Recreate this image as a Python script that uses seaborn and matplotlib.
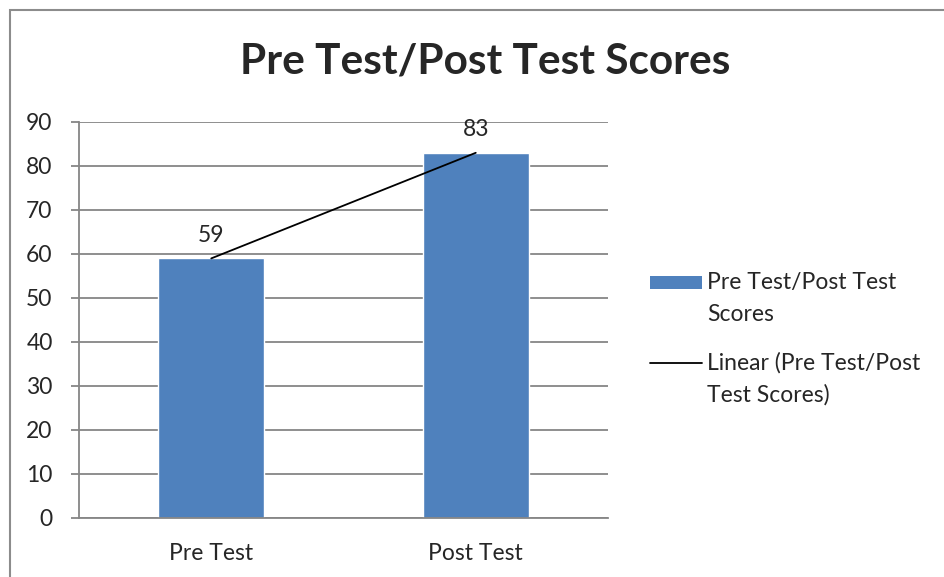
import pandas as pd
import numpy as np
import seaborn as sn
import matplotlib.pyplot as plt
from matplotlib.patches import Rectangle
from matplotlib.lines import Line2D

# chart values
categories = ['Pre Test', 'Post Test']
scores = [59, 83]
yticks = [0, 10, 20, 30, 40, 50, 60, 70, 80, 90]
title = 'Pre Test/Post Test Scores'
series_name = 'Pre Test/Post Test\nScores'
trend_name = 'Linear (Pre Test/Post\nTest Scores)'

bar_color = '#4F81BD'
grid_color = '#868686'
fs = 16.5

sn.set_style('white')
plt.rcParams['font.family'] = ['Lato', 'DejaVu Sans']

df = pd.DataFrame({'test': categories, 'score': scores})

W, H = 944, 577
fig = plt.figure(figsize=(W / 100, H / 100), dpi=100)
# chart frame border
fig.patches.append(Rectangle((10 / W, -0.05), 1.0, 1 - 10 / H + 0.05, transform=fig.transFigure,
                             fill=False, edgecolor='#8c8c8c', linewidth=1.5))
ax = fig.add_axes([79 / W, 1 - 518 / H, (608 - 79) / W, (518 - 122) / H])

sn.barplot(data=df, x='test', y='score', color=bar_color, width=0.4, ax=ax, zorder=2,
           saturation=1)
# linear trendline across the bars
sn.regplot(x=np.arange(len(scores)), y=scores, ax=ax, scatter=False, ci=None,
           color='black', line_kws={'linewidth': 1.3, 'zorder': 3})

ax.bar_label(ax.containers[0], fmt='%d', padding=9, fontsize=fs)

ax.set_ylim(0, 90)
ax.set_xlim(-0.5, 1.5)
ax.set_yticks(yticks)
ax.yaxis.grid(True, color=grid_color, linewidth=1.3, zorder=0)
ax.set_axisbelow(True)
ax.set_xlabel('')
ax.set_ylabel('')
for s in ['top', 'right']:
    ax.spines[s].set_visible(False)
for s in ['left', 'bottom']:
    ax.spines[s].set_color(grid_color)
    ax.spines[s].set_linewidth(1.3)

ax.tick_params(axis='y', direction='out', length=6, width=1.3, color=grid_color,
               labelsize=fs, pad=13, left=True)
ax.set_xticks([-0.5, 0.5, 1.5], minor=True)
ax.tick_params(axis='x', which='minor', direction='out', length=6, width=1.3, color=grid_color)
ax.tick_params(axis='x', which='major', length=0, labelsize=fs, pad=18)

fig.text(485 / W, 1 - 62 / H, title, ha='center', va='center', fontsize=30.5, fontweight='bold')

# legend, handles sit on the first line of each label
fig.patches.append(Rectangle((650 / W, 1 - 289 / H), 52 / W, 13 / H, transform=fig.transFigure,
                             facecolor=bar_color, edgecolor='none'))
fig.lines.append(Line2D([650 / W, 702 / W], [1 - 363 / H, 1 - 363 / H], transform=fig.transFigure,
                        color='black', linewidth=1.3))
fig.text(707 / W, 1 - 298.5 / H, series_name, ha='left', va='center', fontsize=fs, linespacing=1.6)
fig.text(707 / W, 1 - 378.5 / H, trend_name, ha='left', va='center', fontsize=fs, linespacing=1.6)

fig.savefig('out.png', dpi=100)
